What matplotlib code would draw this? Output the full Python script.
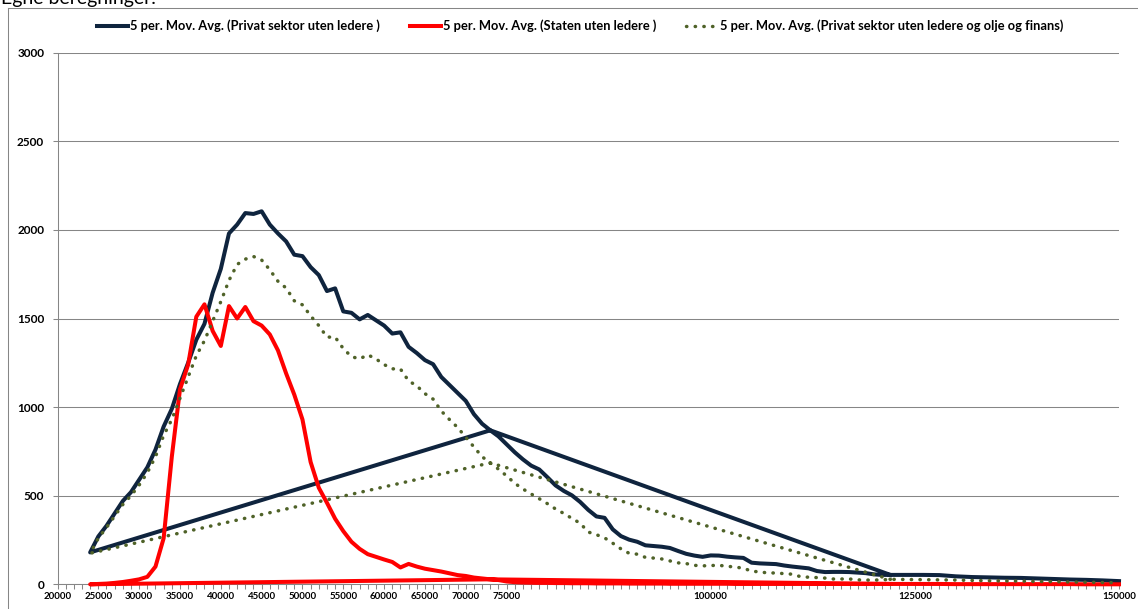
import matplotlib
matplotlib.use("Agg")
import matplotlib.pyplot as plt
from matplotlib.ticker import FixedLocator, MultipleLocator
from matplotlib.lines import Line2D

plt.rcParams['font.family'] = ['Lato', 'DejaVu Sans']

# ---------------- data ----------------
X_BINS = list(range(24000, 122000, 1000)) + list(range(122000, 150001, 2000))

privat = [180, 270, 330, 400, 470, 520, 590, 660, 760, 890,
          990, 1130, 1250, 1380, 1470, 1645, 1780, 1980, 2030, 2095,
          2090, 2105, 2030, 1980, 1935, 1860, 1852, 1790, 1745, 1655,
          1670, 1540, 1532, 1495, 1520, 1490, 1460, 1415, 1422, 1340,
          1305, 1265, 1242, 1170, 1125, 1080, 1035, 960, 906, 869,
          835, 790, 745, 705, 670, 648, 604, 558, 527, 502,
          465, 420, 383, 375, 310, 272, 252, 240, 220, 216,
          212, 205, 188, 172, 162, 155, 163, 162, 156, 152,
          149, 122, 118, 116, 114, 106, 100, 95, 90, 75,
          69, 70, 70, 69, 66, 63, 56, 53,
          53, 53, 53, 52, 45, 41, 39, 37, 36, 33, 30, 27, 25, 22, 18]

staten = [0, 2, 4, 8, 13, 20, 28, 42, 100, 260,
          720, 1100, 1240, 1510, 1580, 1430, 1345, 1570, 1500, 1565,
          1485, 1460, 1410, 1320, 1190, 1070, 930, 690, 545, 460,
          370, 300, 240, 200, 170, 155, 140, 126, 95, 115,
          100, 88, 80, 72, 62, 52, 47, 38, 33, 28,
          24, 16, 12, 10, 9, 8, 8, 7, 7, 6,
          6, 6, 5, 5, 5, 5, 4, 4, 4, 4,
          4, 3, 3, 3, 3, 3, 3, 3, 3, 2,
          2, 2, 2, 2, 2, 2, 2, 2, 2, 2,
          2, 2, 2, 2, 2, 2, 2, 2,
          2, 2, 2, 2, 1, 1, 1, 1, 1, 1, 1, 1, 0, 0, 0]

privat_uten_olje = [175, 260, 320, 385, 450, 500, 560, 630, 720, 840,
                    930, 1050, 1170, 1290, 1375, 1485, 1595, 1715, 1805, 1835,
                    1850, 1830, 1775, 1710, 1672, 1600, 1577, 1515, 1460, 1395,
                    1395, 1330, 1285, 1272, 1295, 1272, 1240, 1216, 1215, 1148,
                    1120, 1076, 1045, 978, 930, 885, 830, 775, 720, 685,
                    650, 612, 570, 538, 510, 483, 455, 425, 400, 372,
                    345, 295, 280, 262, 232, 200, 175, 170, 152, 148,
                    143, 132, 121, 117, 107, 104, 106, 107, 102, 97,
                    91, 74, 70, 64, 64, 60, 57, 43, 40, 38,
                    35, 30, 30, 30, 25, 24, 24, 25,
                    28, 27, 26, 25, 24, 22, 20, 19, 18, 16, 15, 13, 12, 10, 9]

# rows that come before the sorted rows in the source table (unsorted data)
JUMP_X = [122000, 73000]

series_labels = ["5 per. Mov. Avg. (Privat sektor uten ledere )",
                 "5 per. Mov. Avg. (Staten uten ledere )",
                 "5 per. Mov. Avg. (Privat sektor uten ledere og olje og finans)"]

X_TICKS = [20000, 25000, 30000, 35000, 40000, 45000, 50000, 55000,
           60000, 65000, 70000, 75000, 100000, 125000, 150000]
Y_TICKS = [0, 500, 1000, 1500, 2000, 2500, 3000]


def path(values):
    xs = JUMP_X + X_BINS
    ys = [values[X_BINS.index(x)] for x in JUMP_X] + list(values)
    return xs, ys


W, H = 1138, 609
fig = plt.figure(figsize=(W / 100, H / 100), dpi=100)
ax = fig.add_axes([57.5 / W, (H - 584.3) / H, (1119 - 57.5) / W, (584.3 - 52.7) / H])

NAVY = '#0F243E'
RED = '#FF0000'
GREEN = '#4F6228'
GRAY = '#868686'
DOTS = (0, (0.1, 2.4))

xs, ys = path(privat)
ax.plot(xs, ys, color=NAVY, lw=2.9, solid_joinstyle='round', clip_on=False, zorder=3)
xs, ys = path(staten)
ax.plot(xs, ys, color=RED, lw=2.9, solid_joinstyle='round', clip_on=False, zorder=4)
xs, ys = path(privat_uten_olje)
ax.plot(xs, ys, color=GREEN, lw=2.5, linestyle=DOTS,
        dash_capstyle='round', clip_on=False, zorder=5)

ax.set_xlim(20000, 150000)
ax.set_ylim(0, 3000)

ax.xaxis.set_major_locator(FixedLocator(X_TICKS))
ax.xaxis.set_minor_locator(MultipleLocator(1000))
ax.set_xticklabels([str(v) for v in X_TICKS], fontsize=7, fontweight='bold')
ax.yaxis.set_major_locator(FixedLocator(Y_TICKS))
ax.set_yticklabels([str(v) for v in Y_TICKS], fontsize=8.5, fontweight='bold')

ax.tick_params(axis='x', which='both', direction='out', length=3.6, width=0.75,
               color=GRAY, pad=2)
ax.tick_params(axis='y', which='major', direction='out', length=3.6, width=0.75,
               color=GRAY, pad=6)

ax.yaxis.grid(True, color=GRAY, lw=0.75)
ax.set_axisbelow(True)
for s in ['top', 'right']:
    ax.spines[s].set_visible(False)
for s in ['left', 'bottom']:
    ax.spines[s].set_color(GRAY)
    ax.spines[s].set_linewidth(0.75)

handles = [Line2D([], [], color=NAVY, lw=2.9),
           Line2D([], [], color=RED, lw=2.9),
           Line2D([], [], color=GREEN, lw=2.5, linestyle=DOTS, dash_capstyle='round')]
fig.legend(handles, series_labels, loc='center', bbox_to_anchor=(580 / W, 1 - 26 / H),
           ncol=3, frameon=False, handlelength=2.45, handletextpad=0.15,
           columnspacing=2.3, prop={'weight': 'bold', 'size': 9.3})

# chart area border (left and top visible)
fig.add_artist(Line2D([8 / W, 1.0], [1 - 8 / H, 1 - 8 / H], color=GRAY, lw=0.75))
fig.add_artist(Line2D([8 / W, 8 / W], [0, 1 - 8 / H], color=GRAY, lw=0.75))

fig.text(1 / W, 1 - 4 / H, "Egne beregninger.", fontsize=14, va='baseline', ha='left')

fig.savefig("out.png", dpi=100)
